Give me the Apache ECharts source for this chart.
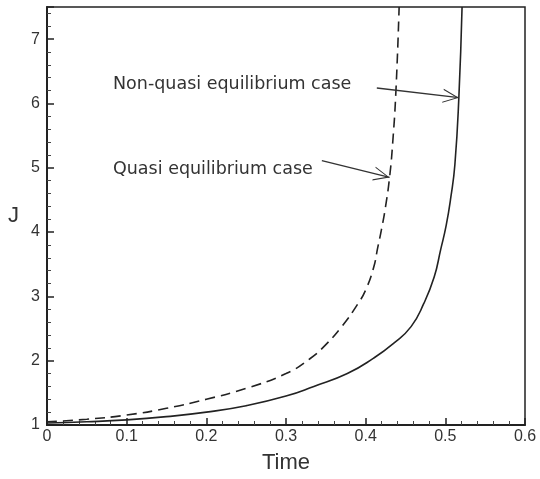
<!DOCTYPE html>
<html>
<head>
<meta charset="utf-8">
<script src="https://cdn.jsdelivr.net/npm/echarts@6/dist/echarts.min.js"></script>
<style>
  html, body { margin: 0; padding: 0; background: #fff; }
  #chart { width: 540px; height: 479px; }
</style>
</head>
<body>
<div id="chart"></div>
<script>
// J versus time for the two model cases
const quasiTime = [0, 0.05, 0.1, 0.15, 0.2, 0.25, 0.3, 0.33, 0.35, 0.37, 0.39, 0.40, 0.41, 0.415, 0.42, 0.425, 0.43, 0.434, 0.438, 0.442];
const quasiJ    = [1.05, 1.09, 1.155, 1.26, 1.40, 1.57, 1.80, 2.03, 2.25, 2.53, 2.88, 3.10, 3.45, 3.75, 4.05, 4.40, 4.85, 5.40, 6.20, 7.50];

const nonQuasiTime = [0, 0.05, 0.1, 0.15, 0.2, 0.25, 0.3, 0.335, 0.377, 0.41, 0.435, 0.457, 0.473, 0.486, 0.494, 0.501, 0.507, 0.512, 0.517, 0.521];
const nonQuasiJ    = [1.03, 1.05, 1.08, 1.13, 1.20, 1.30, 1.45, 1.60, 1.80, 2.04, 2.27, 2.53, 2.89, 3.30, 3.72, 4.10, 4.55, 5.05, 6.10, 7.50];

// annotation arrows: [tail, head] in data units
const quasiArrow = [[0.345, 5.11], [0.430, 4.85]];
const nonQuasiArrow = [[0.414, 6.24], [0.517, 6.09]];

const AXIS_FONT = '"Liberation Sans", Arial, sans-serif';
const NOTE_FONT = '"DejaVu Sans", "Liberation Sans", sans-serif';
const pairs = (xs, ys) => xs.map((x, i) => [x, ys[i]]);
// open chevron head; the tiny mirrored speck keeps the tip at the symbol centre
const chevron = 'path://M0,0 L10,18 L8.4,18 L0,2.8 L-8.4,18 L-10,18 Z M0,-18 L0.01,-18 L0,-17.99 Z';

const arrowLine = (seg) => ({
  silent: true, symbol: ['none', chevron], symbolSize: [14, 32],
  lineStyle: { color: '#333', width: 1.4, type: 'solid' },
  label: { show: false },
  data: [[{ coord: seg[0] }, { coord: seg[1] }]]
});

const chart = echarts.init(document.getElementById('chart'));
chart.setOption({
  animation: false,
  backgroundColor: '#fff',
  grid: {
    left: 47, right: 15, top: 7, bottom: 50,
    show: true, borderColor: '#222', borderWidth: 1.5
  },
  xAxis: {
    type: 'value', min: 0, max: 0.6, interval: 0.1,
    name: 'Time', nameLocation: 'middle', nameGap: 27,
    nameTextStyle: { fontFamily: AXIS_FONT, fontSize: 22, color: '#333' },
    axisLine: { show: true, onZero: false, lineStyle: { color: '#222', width: 2 } },
    axisTick: { show: true, inside: true, length: 7, lineStyle: { color: '#222', width: 1.5 } },
    minorTick: { show: true, splitNumber: 5, length: 4, lineStyle: { color: '#444', width: 1 } },
    axisLabel: { fontFamily: AXIS_FONT, fontSize: 16, color: '#333', margin: 4,
                 formatter: v => (v === 0 ? '0' : v.toFixed(1)) },
    splitLine: { show: false }
  },
  yAxis: {
    type: 'value', min: 1, max: 7.5, interval: 1,
    name: 'J', nameLocation: 'middle', nameGap: 28, nameRotate: 0,
    nameTextStyle: { fontFamily: AXIS_FONT, fontSize: 22, color: '#333' },
    axisLine: { show: true, onZero: false, lineStyle: { color: '#222', width: 2 } },
    axisTick: { show: true, inside: true, length: 7, lineStyle: { color: '#222', width: 1.5 } },
    minorTick: { show: true, splitNumber: 5, length: 4, lineStyle: { color: '#444', width: 1 } },
    axisLabel: { fontFamily: AXIS_FONT, fontSize: 16, color: '#333', margin: 7, showMaxLabel: false },
    splitLine: { show: false }
  },
  series: [
    {
      name: 'Quasi equilibrium case',
      type: 'line', showSymbol: false, clip: true,
      smooth: 0.5,
      data: pairs(quasiTime, quasiJ),
      lineStyle: { color: '#222', width: 1.6, type: [10, 6] },
      markLine: arrowLine(quasiArrow)
    },
    {
      name: 'Non-quasi equilibrium case',
      type: 'line', showSymbol: false, clip: true,
      smooth: 0.5,
      data: pairs(nonQuasiTime, nonQuasiJ),
      lineStyle: { color: '#222', width: 1.6, type: 'solid' },
      markLine: arrowLine(nonQuasiArrow)
    }
  ],
  graphic: [
    { type: 'text', left: 113, top: 75,
      style: { text: 'Non-quasi equilibrium case', font: '17.5px ' + NOTE_FONT, fill: '#333' } },
    { type: 'text', left: 113, top: 160,
      style: { text: 'Quasi equilibrium case', font: '17.5px ' + NOTE_FONT, fill: '#333' } }
  ]
});
</script>
</body>
</html>
